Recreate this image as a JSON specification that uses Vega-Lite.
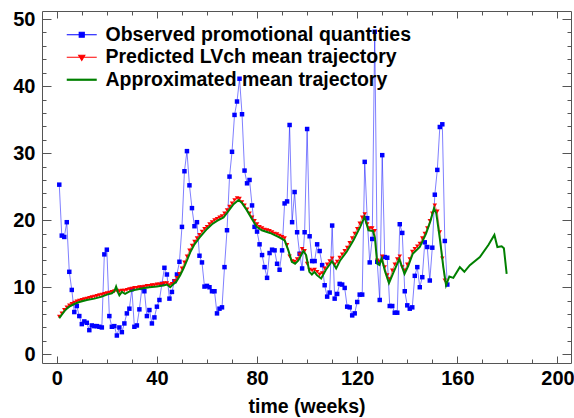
{
  "$schema": "https://vega.github.io/schema/vega-lite/v6.json",
  "width": 529,
  "height": 352,
  "autosize": "none",
  "padding": {"left": 42, "top": 11, "right": 3, "bottom": 55},
  "background": "white",
  "config": {"view": {"stroke": "#555555", "strokeWidth": 1}, "font": "Liberation Sans"},
  "datasets": {
    "obs": [
      {"w":1,"q":25.3},{"w":2,"q":17.7},{"w":3,"q":17.5},{"w":4,"q":19.7},{"w":5,"q":12.3},{"w":6,"q":9.6},{"w":7,"q":6.3},{"w":8,"q":7.2},{"w":9,"q":5.7},{"w":10,"q":4.5},
      {"w":11,"q":4.9},{"w":12,"q":4.7},{"w":13,"q":3.6},{"w":14,"q":4.3},{"w":15,"q":4.2},{"w":16,"q":4.2},{"w":17,"q":4.1},{"w":18,"q":4.0},{"w":19,"q":14.9},{"w":20,"q":15.6},
      {"w":21,"q":5.7},{"w":22,"q":4.1},{"w":23,"q":4.2},{"w":24,"q":2.8},{"w":25,"q":4.0},{"w":26,"q":3.3},{"w":27,"q":4.6},{"w":28,"q":6.1},{"w":29,"q":6.8},{"w":30,"q":9.7},
      {"w":31,"q":4.1},{"w":32,"q":4.3},{"w":33,"q":6.7},{"w":34,"q":9.9},{"w":35,"q":9.4},{"w":36,"q":5.7},{"w":37,"q":6.6},{"w":38,"q":4.6},{"w":39,"q":5.5},{"w":40,"q":7.1},
      {"w":41,"q":8.1},{"w":42,"q":10.5},{"w":43,"q":12.9},{"w":44,"q":11.9},{"w":45,"q":8.3},{"w":46,"q":9.3},{"w":47,"q":10.9},{"w":48,"q":11.9},{"w":49,"q":13.8},{"w":50,"q":19.0},
      {"w":51,"q":27.3},{"w":52,"q":30.3},{"w":53,"q":25.2},{"w":54,"q":21.8},{"w":55,"q":19.1},{"w":56,"q":19.7},{"w":57,"q":14.7},{"w":58,"q":13.7},{"w":59,"q":10.1},{"w":60,"q":10.2},
      {"w":61,"q":10.0},{"w":62,"q":9.4},{"w":63,"q":9.4},{"w":64,"q":6.1},{"w":65,"q":6.8},{"w":66,"q":7.0},{"w":67,"q":13.0},{"w":68,"q":18.5},{"w":69,"q":26.5},{"w":70,"q":30.2},
      {"w":71,"q":35.7},{"w":72,"q":37.7},{"w":73,"q":41.1},{"w":74,"q":35.8},{"w":75,"q":27.4},{"w":76,"q":25.5},{"w":77,"q":26.0},{"w":78,"q":22.2},{"w":79,"q":19.0},{"w":80,"q":18.3},
      {"w":81,"q":16.4},{"w":82,"q":14.8},{"w":83,"q":13.0},{"w":84,"q":11.4},{"w":85,"q":15.1},{"w":86,"q":15.6},{"w":87,"q":15.5},{"w":88,"q":13.5},{"w":89,"q":12.6},{"w":90,"q":15.5},
      {"w":91,"q":22.5},{"w":92,"q":22.8},{"w":93,"q":34.2},{"w":94,"q":19.7},{"w":95,"q":24.2},{"w":96,"q":18.2},{"w":97,"q":15.0},{"w":98,"q":12.8},{"w":99,"q":18.2},{"w":100,"q":33.6},
      {"w":101,"q":17.6},{"w":102,"q":13.9},{"w":103,"q":13.9},{"w":104,"q":16.4},{"w":105,"q":15.4},{"w":106,"q":13.3},{"w":107,"q":10.3},{"w":108,"q":8.6},{"w":109,"q":9.2},{"w":110,"q":19.2},
      {"w":111,"q":8.3},{"w":112,"q":9.0},{"w":113,"q":10.5},{"w":114,"q":10.4},{"w":115,"q":9.9},{"w":116,"q":7.1},{"w":117,"q":7.0},{"w":118,"q":5.8},{"w":119,"q":6.1},{"w":120,"q":7.8},
      {"w":121,"q":8.9},{"w":122,"q":8.9},{"w":123,"q":28.7},{"w":124,"q":20.3},{"w":125,"q":13.7},{"w":126,"q":17.2},{"w":127,"q":48.1},{"w":128,"q":13.8},{"w":129,"q":8.1},{"w":130,"q":29.7},
      {"w":131,"q":14.5},{"w":132,"q":14.4},{"w":133,"q":7.2},{"w":134,"q":7.2},{"w":135,"q":6.2},{"w":136,"q":6.2},{"w":137,"q":19.4},{"w":138,"q":18.1},{"w":139,"q":9.4},{"w":140,"q":7.3},
      {"w":141,"q":6.8},{"w":142,"q":7.0},{"w":143,"q":11.7},{"w":144,"q":13.0},{"w":145,"q":10.0},{"w":146,"q":11.5},{"w":147,"q":16.7},{"w":148,"q":16.0},{"w":149,"q":11.0},{"w":150,"q":15.9},
      {"w":151,"q":23.8},{"w":152,"q":27.5},{"w":153,"q":33.9},{"w":154,"q":34.3},{"w":155,"q":16.9},{"w":156,"q":10.4}
    ],
    "pred": [
      {"w":1,"q":5.6},{"w":2,"q":6.1},{"w":3,"q":6.6},{"w":4,"q":7.0},{"w":5,"q":7.3},{"w":6,"q":7.5},{"w":7,"q":7.7},{"w":8,"q":7.9},{"w":9,"q":8.0},{"w":10,"q":8.1},
      {"w":11,"q":8.2},{"w":12,"q":8.3},{"w":13,"q":8.4},{"w":14,"q":8.5},{"w":15,"q":8.6},{"w":16,"q":8.7},{"w":17,"q":8.8},{"w":18,"q":8.9},{"w":19,"q":9.0},{"w":20,"q":9.1},
      {"w":21,"q":9.2},{"w":22,"q":9.3},{"w":23,"q":9.4},{"w":24,"q":9.5},{"w":25,"q":9.4},{"w":26,"q":9.5},{"w":27,"q":9.5},{"w":28,"q":9.6},{"w":29,"q":9.7},{"w":30,"q":9.8},
      {"w":31,"q":9.9},{"w":32,"q":9.9},{"w":33,"q":10.0},{"w":34,"q":10.0},{"w":35,"q":10.1},{"w":36,"q":10.2},{"w":37,"q":10.2},{"w":38,"q":10.3},{"w":39,"q":10.3},{"w":40,"q":10.4},
      {"w":41,"q":10.4},{"w":42,"q":10.5},{"w":43,"q":10.6},{"w":44,"q":10.6},{"w":45,"q":10.3},{"w":46,"q":10.5},{"w":47,"q":10.9},{"w":48,"q":11.4},{"w":49,"q":12.0},{"w":50,"q":12.8},
      {"w":51,"q":13.7},{"w":52,"q":14.6},{"w":53,"q":15.5},{"w":54,"q":16.2},{"w":55,"q":16.8},{"w":56,"q":17.3},{"w":57,"q":17.8},{"w":58,"q":18.3},{"w":59,"q":18.7},{"w":60,"q":19.0},
      {"w":61,"q":19.4},{"w":62,"q":19.7},{"w":63,"q":20.0},{"w":64,"q":20.2},{"w":65,"q":20.4},{"w":66,"q":20.6},{"w":67,"q":21.0},{"w":68,"q":21.5},{"w":69,"q":22.0},{"w":70,"q":22.5},
      {"w":71,"q":23.0},{"w":72,"q":23.3},{"w":73,"q":23.2},{"w":74,"q":22.7},{"w":75,"q":22.2},{"w":76,"q":21.6},{"w":77,"q":21.0},{"w":78,"q":20.4},{"w":79,"q":19.9},{"w":80,"q":19.4},
      {"w":81,"q":19.0},{"w":82,"q":18.8},{"w":83,"q":18.6},{"w":84,"q":18.5},{"w":85,"q":18.4},{"w":86,"q":18.2},{"w":87,"q":18.0},{"w":88,"q":17.9},{"w":89,"q":17.7},{"w":90,"q":17.5},
      {"w":91,"q":17.3},{"w":92,"q":16.3},{"w":93,"q":14.6},{"w":94,"q":13.9},{"w":95,"q":13.8},{"w":96,"q":14.2},{"w":97,"q":14.9},{"w":98,"q":15.7},{"w":99,"q":15.4},{"w":100,"q":13.5},
      {"w":101,"q":12.6},{"w":102,"q":12.5},{"w":103,"q":12.6},{"w":104,"q":12.3},{"w":105,"q":11.9},{"w":106,"q":12.1},{"w":107,"q":12.8},{"w":108,"q":13.4},{"w":109,"q":13.9},{"w":110,"q":14.3},
      {"w":111,"q":13.4},{"w":112,"q":13.8},{"w":113,"q":14.4},{"w":114,"q":14.9},{"w":115,"q":15.4},{"w":116,"q":15.9},{"w":117,"q":16.6},{"w":118,"q":17.3},{"w":119,"q":18.0},{"w":120,"q":18.7},
      {"w":121,"q":19.5},{"w":122,"q":20.4},{"w":123,"q":20.9},{"w":124,"q":19.4},{"w":125,"q":18.8},{"w":126,"q":18.8},{"w":127,"q":18.4},{"w":128,"q":14.0},{"w":129,"q":13.8},{"w":130,"q":14.6},
      {"w":131,"q":13.0},{"w":132,"q":11.8},{"w":133,"q":11.2},{"w":134,"q":12.5},{"w":135,"q":13.4},{"w":136,"q":14.2},{"w":137,"q":14.6},{"w":138,"q":13.0},{"w":139,"q":12.5},{"w":140,"q":13.4},
      {"w":141,"q":14.2},{"w":142,"q":15.3},{"w":143,"q":15.7},{"w":144,"q":16.1},{"w":145,"q":16.5},{"w":146,"q":17.3},{"w":147,"q":18.0},{"w":148,"q":18.8},{"w":149,"q":19.9},{"w":150,"q":21.0},
      {"w":151,"q":22.2},{"w":152,"q":21.3},{"w":153,"q":18.2},{"w":154,"q":14.3},{"w":155,"q":11.0}
    ],
    "approx": [
      {"w":1,"q":5.4},{"w":2,"q":5.9},{"w":3,"q":6.4},{"w":4,"q":6.8},{"w":5,"q":7.1},{"w":7,"q":7.5},{"w":9,"q":7.8},{"w":12,"q":8.1},{"w":15,"q":8.3},{"w":18,"q":8.6},
      {"w":20,"q":8.9},{"w":22,"q":9.1},{"w":23,"q":9.4},{"w":23.7,"q":10.1},{"w":24.5,"q":9.2},{"w":25,"q":8.8},{"w":26,"q":9.3},{"w":27.3,"q":9.0},{"w":28.7,"q":9.3},{"w":31,"q":9.6},
      {"w":34,"q":9.8},{"w":37,"q":10.0},{"w":40,"q":10.1},{"w":43,"q":10.3},{"w":44,"q":10.4},{"w":45.3,"q":10.0},{"w":46.4,"q":10.4},{"w":47.7,"q":10.8},{"w":49.3,"q":11.8},{"w":50.6,"q":12.8},
      {"w":52,"q":14.0},{"w":53.3,"q":15.2},{"w":55,"q":16.4},{"w":57,"q":17.4},{"w":60,"q":18.7},{"w":62,"q":19.4},{"w":64,"q":19.9},{"w":66.6,"q":20.4},{"w":68.6,"q":21.4},{"w":70.6,"q":22.4},
      {"w":72.6,"q":23.0},{"w":73.9,"q":22.6},{"w":75.9,"q":21.5},{"w":77.9,"q":20.2},{"w":79.9,"q":19.0},{"w":81.9,"q":18.5},{"w":85.2,"q":18.1},{"w":88.5,"q":17.5},{"w":91,"q":17.0},{"w":92.5,"q":15.5},
      {"w":93.9,"q":13.8},{"w":95.2,"q":13.5},{"w":96.5,"q":14.0},{"w":98.5,"q":15.4},{"w":99.6,"q":14.8},{"w":100.9,"q":12.3},{"w":101.9,"q":11.9},{"w":102.9,"q":12.3},{"w":103.9,"q":11.8},{"w":105.6,"q":11.3},
      {"w":107.5,"q":12.6},{"w":109.9,"q":13.9},{"w":111.6,"q":12.8},{"w":113.2,"q":14.0},{"w":115.8,"q":15.3},{"w":118.5,"q":17.0},{"w":121.2,"q":19.0},{"w":122.9,"q":20.5},{"w":124.5,"q":18.5},{"w":126.3,"q":18.4},
      {"w":127.1,"q":17.3},{"w":128,"q":13.5},{"w":128.9,"q":13.3},{"w":129.8,"q":14.3},{"w":131.1,"q":12.4},{"w":132.7,"q":10.6},{"w":134.5,"q":12.2},{"w":136.8,"q":14.2},{"w":138.9,"q":12.0},{"w":140.4,"q":13.2},
      {"w":142.2,"q":15.0},{"w":145,"q":16.0},{"w":147.5,"q":18.0},{"w":149.2,"q":19.8},{"w":150.7,"q":21.8},{"w":151.6,"q":21.0},{"w":153.1,"q":17.0},{"w":154.4,"q":13.0},{"w":155.5,"q":10.3},{"w":156.8,"q":11.6},
      {"w":158.4,"q":11.4},{"w":161,"q":13.0},{"w":162.8,"q":12.3},{"w":165,"q":13.3},{"w":169,"q":14.5},{"w":172.4,"q":16.3},{"w":174.8,"q":17.8},{"w":176,"q":16.0},{"w":177.7,"q":16.1},{"w":178.6,"q":15.8},
      {"w":179.7,"q":12.0}
    ]
  },
  "layer": [
    {
      "data": {"name": "obs"},
      "mark": {"type": "line", "strokeWidth": 1, "opacity": 0.5},
      "encoding": {
        "x": {"field": "w", "type": "quantitative", "scale": {"domain": [-5.9, 205.4], "nice": false, "zero": false},
          "axis": {"orient": "bottom", "values": [0,10,20,30,40,50,60,70,80,90,100,110,120,130,140,150,160,170,180,190,200],
            "domain": false, "grid": false, "tickColor": "#555555", "tickWidth": 1,
            "tickSize": {"condition": {"test": "datum.value % 40 === 0", "value": -7}, "value": -4},
            "labelExpr": "datum.value % 40 === 0 ? datum.label : ''", "labelOverlap": false, "labelFlush": false, "labelBound": false,
            "labelFont": "Liberation Sans", "labelFontWeight": "bold", "labelFontSize": 20, "labelColor": "black", "labelPadding": 12,
            "title": "time (weeks)", "titleFont": "Liberation Sans", "titleFontWeight": "bold", "titleFontSize": 19.5, "titleColor": "black", "titlePadding": 6}},
        "y": {"field": "q", "type": "quantitative", "scale": {"domain": [-1.3, 51.2], "nice": false, "zero": false},
          "axis": {"orient": "left", "values": [0,2,4,6,8,10,12,14,16,18,20,22,24,26,28,30,32,34,36,38,40,42,44,46,48,50],
            "domain": false, "grid": false, "tickColor": "#555555", "tickWidth": 1,
            "tickSize": {"condition": {"test": "datum.value % 10 === 0", "value": -9}, "value": -4},
            "labelExpr": "datum.value % 10 === 0 ? datum.label : ''", "labelOverlap": false, "labelFlush": false, "labelBound": false,
            "labelFont": "Liberation Sans", "labelFontWeight": "bold", "labelFontSize": 20, "labelColor": "black", "labelPadding": 16,
            "title": null}},
        "color": {"datum": "Observed promotional quantities",
          "scale": {"domain": ["Observed promotional quantities", "Predicted LVch mean trajectory", "Approximated mean trajectory"], "range": ["#0000ff", "#ff0000", "#008000"]},
          "legend": {"orient": "none", "legendX": 30, "legendY": 14, "title": null, "padding": 0,
            "labelFont": "Liberation Sans", "labelFontWeight": "bold", "labelFontSize": 19.5, "labelColor": "black", "labelOffset": 14, "labelLimit": 0,
            "symbolSize": 100, "rowPadding": 1.5,
            "encoding": {"symbols": {
              "shape": {"value": {"expr": "datum.value === 'Observed promotional quantities' ? 'M-3,0H3M-0.5,-0.5H0.5V0.5H-0.5Z' : datum.value === 'Predicted LVch mean trajectory' ? 'M-3,0H3M-0.6,-0.4H0.6L0,0.6Z' : 'M-3,0H3'"}},
              "fill": {"value": {"expr": "datum.value === 'Observed promotional quantities' ? '#0000ff' : datum.value === 'Predicted LVch mean trajectory' ? '#ff0000' : 'transparent'"}},
              "stroke": {"value": {"expr": "datum.value === 'Observed promotional quantities' ? '#8a8aff' : datum.value === 'Predicted LVch mean trajectory' ? '#ff8a8a' : '#008000'"}},
              "strokeWidth": {"value": {"expr": "datum.value === 'Approximated mean trajectory' ? 2.2 : 1.2"}},
              "opacity": {"value": 1}
            }}}}
      }
    },
    {
      "data": {"name": "obs"},
      "mark": {"type": "point", "shape": "square", "filled": true, "size": 20, "opacity": 1},
      "encoding": {
        "x": {"field": "w", "type": "quantitative",
          "axis": {"orient": "top", "values": [0,10,20,30,40,50,60,70,80,90,100,110,120,130,140,150,160,170,180,190,200],
            "domain": false, "grid": false, "labels": false, "title": null, "tickColor": "#555555",
            "tickSize": {"condition": {"test": "datum.value % 40 === 0", "value": -7}, "value": -4}}},
        "y": {"field": "q", "type": "quantitative",
          "axis": {"orient": "right", "values": [0,2,4,6,8,10,12,14,16,18,20,22,24,26,28,30,32,34,36,38,40,42,44,46,48,50],
            "domain": false, "grid": false, "labels": false, "title": null, "tickColor": "#555555",
            "tickSize": {"condition": {"test": "datum.value % 10 === 0", "value": -9}, "value": -4}}},
        "color": {"datum": "Observed promotional quantities"}
      }
    },
    {
      "data": {"name": "pred"},
      "mark": {"type": "line", "strokeWidth": 1, "opacity": 0.5},
      "encoding": {
        "x": {"field": "w", "type": "quantitative", "axis": null},
        "y": {"field": "q", "type": "quantitative", "axis": null},
        "color": {"datum": "Predicted LVch mean trajectory"}
      }
    },
    {
      "data": {"name": "pred"},
      "mark": {"type": "point", "shape": "triangle-down", "filled": true, "size": 20, "opacity": 1},
      "encoding": {
        "x": {"field": "w", "type": "quantitative", "axis": null},
        "y": {"field": "q", "type": "quantitative", "axis": null},
        "color": {"datum": "Predicted LVch mean trajectory"}
      }
    },
    {
      "data": {"name": "approx"},
      "mark": {"type": "line", "strokeWidth": 2},
      "encoding": {
        "x": {"field": "w", "type": "quantitative", "axis": null},
        "y": {"field": "q", "type": "quantitative", "axis": null},
        "color": {"datum": "Approximated mean trajectory"}
      }
    }
  ],
  "resolve": {"axis": {"x": "independent", "y": "independent"}}
}
